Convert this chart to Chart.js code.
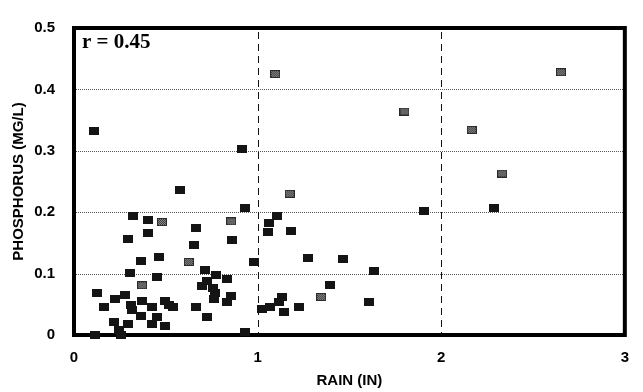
<!DOCTYPE html>
<html>
<head>
<meta charset="utf-8">
<script src="https://cdn.jsdelivr.net/npm/chart.js@4/dist/chart.umd.min.js"></script>
<style>
  html, body { margin: 0; padding: 0; background: #fff; }
  #wrap { width: 643px; height: 392px; }
</style>
</head>
<body>
<div id="wrap"><canvas id="c" width="643" height="392"></canvas></div>
<script>
// Storm samples: rainfall (in) vs. total phosphorus (mg/L)
const rainDark = [0.11, 0.915, 2.29, 1.905, 1.104, 1.063, 1.056, 1.184, 1.274, 1.465,
  1.636, 1.395, 1.605, 1.133, 1.115, 1.065, 1.025, 1.146, 1.225, 0.982,
  0.933, 0.575, 0.933, 0.319, 0.405, 0.405, 0.665, 0.295, 0.863, 0.656,
  0.366, 0.461, 0.305, 0.454, 0.714, 0.776, 0.831, 0.723, 0.696, 0.759,
  0.769, 0.856, 0.761, 0.834, 0.124, 0.223, 0.278, 0.373, 0.308, 0.314,
  0.164, 0.425, 0.497, 0.515, 0.539, 0.665, 0.366, 0.454, 0.723, 0.218,
  0.295, 0.425, 0.497, 0.245, 0.115, 0.254];
const phosDark = [0.333, 0.303, 0.207, 0.202, 0.194, 0.182, 0.167, 0.169, 0.126, 0.124,
  0.104, 0.081, 0.053, 0.062, 0.054, 0.046, 0.042, 0.037, 0.046, 0.119,
  0.005, 0.236, 0.207, 0.194, 0.188, 0.166, 0.174, 0.156, 0.155, 0.146,
  0.121, 0.127, 0.101, 0.095, 0.106, 0.098, 0.092, 0.088, 0.079, 0.076,
  0.068, 0.064, 0.059, 0.053, 0.069, 0.058, 0.065, 0.056, 0.049, 0.041,
  0.045, 0.046, 0.055, 0.049, 0.046, 0.046, 0.031, 0.030, 0.030, 0.021,
  0.018, 0.018, 0.015, 0.008, 0.000, 0.000];

const rainGray = [1.096, 1.80, 2.166, 2.652, 2.332, 1.175, 1.346, 0.479, 0.856, 0.625, 0.371];
const phosGray = [0.425, 0.364, 0.334, 0.428, 0.263, 0.230, 0.062, 0.184, 0.185, 0.119, 0.081];

const xTicks = [0, 1, 2, 3];
const yTicks = [0, 0.1, 0.2, 0.3, 0.4, 0.5];
const xDashedLines = [1, 2];
const yDottedLines = [0.1, 0.2, 0.3, 0.4];
const corrLabel = 'r = 0.45';

const toPoints = (xs, ys) => xs.map((v, i) => ({ x: v, y: ys[i] }));

// small rectangular markers: solid dark, and a speckled grey variant
function makeMarker(kind) {
  const c = document.createElement('canvas');
  c.width = 10; c.height = 8;
  const g = c.getContext('2d');
  if (kind === 'dark') {
    g.fillStyle = '#141414';
    g.fillRect(0, 0, 10, 8);
  } else {
    g.fillStyle = '#2a2a2a';
    g.fillRect(0, 0, 10, 8);
    for (let yy = 1; yy < 7; yy++) {
      for (let xx = 1; xx < 9; xx++) {
        g.fillStyle = ((xx + yy) % 2 === 0) ? '#8c8c8c' : '#3c3c3c';
        g.fillRect(xx, yy, 1, 1);
      }
    }
  }
  return c;
}

const labelFont = { family: "'Liberation Sans', Arial, sans-serif", size: 15, weight: 'bold' };

const framePlugin = {
  id: 'frameAndGrid',
  beforeDatasetsDraw(chart) {
    const { ctx, chartArea: { left, right, top, bottom }, scales: { x, y } } = chart;
    ctx.save();
    // dotted horizontal reference lines
    ctx.lineWidth = 1;
    ctx.strokeStyle = '#555';
    ctx.setLineDash([1, 1]);
    yDottedLines.forEach(v => {
      const py = Math.round(y.getPixelForValue(v)) + 0.5;
      ctx.beginPath(); ctx.moveTo(left, py); ctx.lineTo(right, py); ctx.stroke();
    });
    // dashed vertical reference lines
    ctx.strokeStyle = '#111';
    ctx.setLineDash([7, 5]);
    xDashedLines.forEach(v => {
      const px = Math.round(x.getPixelForValue(v)) + 0.5;
      ctx.beginPath(); ctx.moveTo(px, top + 4); ctx.lineTo(px, bottom + 2); ctx.stroke();
    });
    // heavy plot frame
    ctx.setLineDash([]);
    ctx.lineWidth = 4;
    ctx.strokeStyle = '#000';
    ctx.strokeRect(left, top, right - left, bottom - top);
    // correlation note
    ctx.font = "bold 21px 'Liberation Serif', 'Times New Roman', serif";
    ctx.fillStyle = '#000';
    ctx.textAlign = 'left';
    ctx.textBaseline = 'alphabetic';
    ctx.fillText(corrLabel, left + 8, top + 20);
    ctx.restore();
  }
};

new Chart(document.getElementById('c'), {
  type: 'scatter',
  data: {
    datasets: [
      { data: toPoints(rainDark, phosDark), pointStyle: makeMarker('dark'), clip: false },
      { data: toPoints(rainGray, phosGray), pointStyle: makeMarker('gray'), clip: false }
    ]
  },
  options: {
    responsive: false,
    animation: false,
    devicePixelRatio: 1,
    layout: { padding: { top: 28, right: 14, left: 0, bottom: 0 } },
    plugins: { legend: { display: false }, tooltip: { enabled: false } },
    scales: {
      x: {
        type: 'linear', min: 0, max: 3,
        afterBuildTicks: s => { s.ticks = xTicks.map(v => ({ value: v })); },
        afterFit: s => { s.height = 57; },
        grid: { display: false, drawTicks: false },
        border: { display: false },
        ticks: { color: '#000', font: labelFont, padding: 14, callback: v => String(v) },
        title: { display: true, text: 'RAIN (IN)', color: '#000', font: labelFont, padding: { top: 0, bottom: 2 } }
      },
      y: {
        type: 'linear', min: 0, max: 0.5,
        afterBuildTicks: s => { s.ticks = yTicks.map(v => ({ value: v })); },
        afterFit: s => { s.width = 74; },
        grid: { display: false, drawTicks: false },
        border: { display: false },
        ticks: { color: '#000', font: labelFont, padding: 19, callback: v => String(v) },
        title: { display: true, text: 'PHOSPHORUS (MG/L)', color: '#000', font: labelFont, padding: { top: 10, bottom: 0 } }
      }
    }
  },
  plugins: [framePlugin]
});
</script>
</body>
</html>
